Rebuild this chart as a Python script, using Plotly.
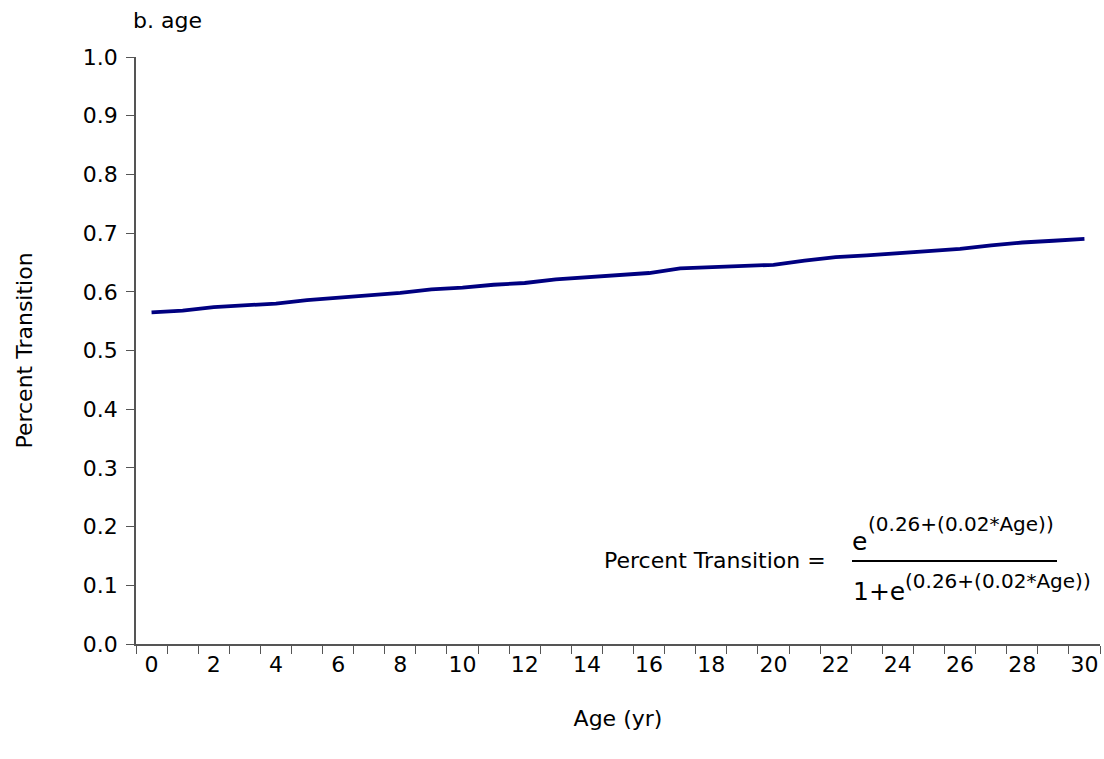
import plotly.graph_objects as go

# Fitted logistic transition probability by age
age = list(range(0, 31))
percent_transition = [
    0.565, 0.568, 0.574, 0.577, 0.580, 0.586, 0.590, 0.595, 0.598, 0.604,
    0.607, 0.612, 0.615, 0.621, 0.625, 0.629, 0.632, 0.640, 0.642, 0.645,
    0.646, 0.653, 0.659, 0.662, 0.666, 0.669, 0.673, 0.679, 0.684, 0.687,
    0.690,
]
x_tick_labels = list(range(0, 31, 2))
y_tick_values = [i / 10 for i in range(0, 11)]

FONT = "DejaVu Sans"
AXIS_COLOR = "#555555"
TEXT_SIZE = 22

W, H = 1104, 759
L, R, T, B = 136, 4, 57, 115
plot_w = W - L - R
plot_h = H - T - B


def px(xp):
    return (xp - L) / plot_w


def py(yp):
    return (H - B - yp) / plot_h


fig = go.Figure()
fig.add_trace(go.Scatter(
    x=age, y=percent_transition, mode="lines",
    line=dict(color="#000080", width=3.8),
    hoverinfo="skip", showlegend=False,
))

fig.update_layout(
    width=W, height=H,
    margin=dict(l=L, r=R, t=T, b=B),
    paper_bgcolor="white", plot_bgcolor="white",
    font=dict(family=FONT, size=TEXT_SIZE, color="black"),
    xaxis=dict(
        range=[-0.5, 30.5], showgrid=False, zeroline=False,
        showline=True, linecolor=AXIS_COLOR, linewidth=1.5,
        tickmode="array", tickvals=x_tick_labels,
        ticktext=[str(v) for v in x_tick_labels], ticks="",
        tickfont=dict(size=TEXT_SIZE),
        minor=dict(
            tickmode="array", tickvals=[i - 0.5 for i in range(0, 32)],
            ticks="outside", ticklen=8, tickwidth=1.2, tickcolor=AXIS_COLOR,
            showgrid=False,
        ),
        title=dict(text="Age (yr)", font=dict(size=TEXT_SIZE), standoff=34),
    ),
    yaxis=dict(
        range=[0, 1.0], showgrid=False, zeroline=False,
        showline=True, linecolor=AXIS_COLOR, linewidth=1.5,
        tickmode="array", tickvals=y_tick_values, tickformat=".1f",
        ticks="outside", ticklen=8, tickwidth=1.2, tickcolor=AXIS_COLOR,
        tickfont=dict(size=TEXT_SIZE), ticklabelstandoff=4,
        title=dict(text="Percent Transition", font=dict(size=TEXT_SIZE),
                   standoff=44),
    ),
)

# Panel label
fig.add_annotation(
    xref="paper", yref="paper", x=px(131), y=py(21),
    xanchor="left", yanchor="middle", showarrow=False,
    text="b. age", font=dict(size=TEXT_SIZE),
)

# Model equation: left-hand side, then a stacked fraction
EQ_BASE = 25
EQ_EXP = 20
exponent = "(0.26+(0.02*Age))"

fig.add_annotation(
    xref="paper", yref="paper", x=px(828), y=py(560),
    xanchor="right", yanchor="middle", showarrow=False,
    text="Percent Transition =", font=dict(size=TEXT_SIZE),
)
# numerator
fig.add_annotation(
    xref="paper", yref="paper", x=px(850), y=py(541),
    xanchor="left", yanchor="middle", showarrow=False,
    text="e", font=dict(size=EQ_BASE),
)
fig.add_annotation(
    xref="paper", yref="paper", x=px(866), y=py(524),
    xanchor="left", yanchor="middle", showarrow=False,
    text=exponent, font=dict(size=EQ_EXP),
)
# fraction bar
fig.add_shape(
    type="line", xref="paper", yref="paper",
    x0=px(852), x1=px(1057), y0=py(561), y1=py(561),
    line=dict(color="black", width=2),
)
# denominator
fig.add_annotation(
    xref="paper", yref="paper", x=px(851), y=py(591),
    xanchor="left", yanchor="middle", showarrow=False,
    text="1+e", font=dict(size=EQ_BASE),
)
fig.add_annotation(
    xref="paper", yref="paper", x=px(903), y=py(581),
    xanchor="left", yanchor="middle", showarrow=False,
    text=exponent, font=dict(size=EQ_EXP),
)

fig.write_html("out.html")
